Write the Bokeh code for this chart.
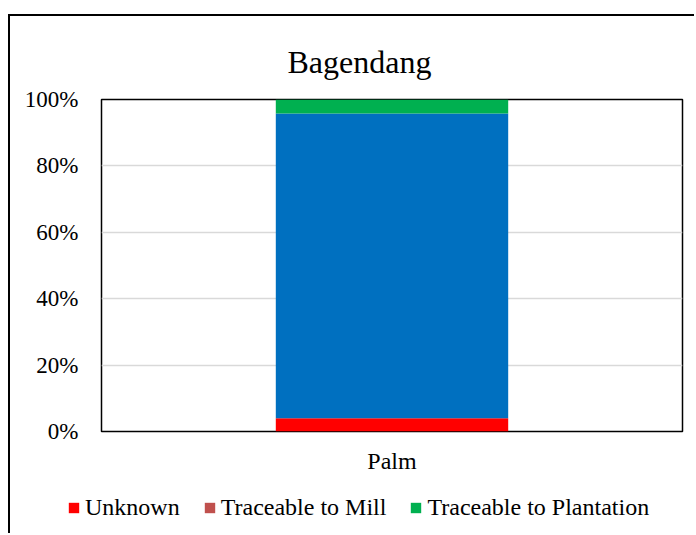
from bokeh.plotting import figure
from bokeh.layouts import column
from bokeh.models import Legend, LegendItem, NumeralTickFormatter, FixedTicker, ColumnDataSource
from bokeh.embed import file_html
from bokeh.resources import INLINE

# ---- data ----
categories = ["Palm"]
unknown = [0.040]
traceable_to_mill = [0.0]
traceable_other = [0.918]
traceable_to_plantation = [0.042]
y_ticks = [0, 0.2, 0.4, 0.6, 0.8, 1.0]

series_keys = ["unknown", "mill", "other", "plantation"]
series_colors = ["#FF0000", "#C0504D", "#0070C0", "#00B050"]
legend_names = {"unknown": "Unknown", "mill": "Traceable to Mill",
                "plantation": "Traceable to Plantation"}

source = ColumnDataSource(dict(cat=categories, unknown=unknown, mill=traceable_to_mill,
                               other=traceable_other, plantation=traceable_to_plantation))

FONT = "Liberation Serif"

# ---- main chart ----
p = figure(x_range=categories, y_range=(0, 1), width=686, height=469,
           output_backend="svg", toolbar_location=None,
           min_border_left=91, min_border_right=14, min_border_top=83,
           min_border_bottom=54)
p.styles = {"border-left": "2px solid #000", "border-top": "2px solid #000",
            "margin-left": "8px", "margin-top": "14px"}
p.frame_align = False

p.vbar_stack(series_keys, x="cat", width=0.4, color=series_colors,
             line_width=0, source=source)

p.title.text = "Bagendang"
p.title.text_font = FONT
p.title.text_font_size = "32px"
p.title.text_font_style = "normal"
p.title.text_color = "black"
p.title.align = "left"
p.title.offset = 186
p.title.standoff = 40

p.outline_line_color = "black"
p.outline_line_width = 1.5
p.xgrid.visible = False
p.ygrid.grid_line_color = "#D9D9D9"
p.ygrid.grid_line_width = 1.5

p.yaxis.ticker = FixedTicker(ticks=y_ticks)
p.yaxis.formatter = NumeralTickFormatter(format="0%")
for ax in (p.xaxis, p.yaxis):
    ax.axis_line_color = None
    ax.major_tick_line_color = None
    ax.minor_tick_line_color = None
    ax.major_tick_out = 0
    ax.major_tick_in = 0
    ax.major_label_text_font = FONT
    ax.major_label_text_color = "black"
p.yaxis.major_label_text_font_size = "23px"
p.yaxis.major_label_standoff = 23
p.xaxis.major_label_text_font_size = "24px"
p.xaxis.major_label_standoff = 16

# ---- legend strip (same series, drawn out of view; only the legend shows) ----
lg = figure(x_range=categories, y_range=(2, 3), width=686, height=50,
            output_backend="svg", toolbar_location=None,
            x_axis_type=None, y_axis_type=None,
            min_border_left=0, min_border_right=0, min_border_top=0,
            min_border_bottom=0)
lg.styles = {"border-left": "2px solid #000", "margin-left": "8px"}
lg.frame_align = False
lg.outline_line_color = None
lg.grid.visible = False
lg_renderers = lg.vbar_stack(series_keys, x="cat", width=0.4, color=series_colors,
                             line_width=0, source=source)

items = [LegendItem(label=legend_names[k], renderers=[r])
         for k, r in zip(series_keys, lg_renderers) if k in legend_names]
legend = Legend(items=items, orientation="horizontal", location=(57, 12),
                glyph_width=13, glyph_height=13, label_standoff=5, spacing=23,
                padding=0, margin=0, border_line_color=None,
                background_fill_alpha=0, label_text_font=FONT,
                label_text_font_size="24px", label_text_color="black")
lg.add_layout(legend, "center")

layout = column(p, lg, spacing=0)

open("out.html", "w").write(file_html(layout, INLINE))
